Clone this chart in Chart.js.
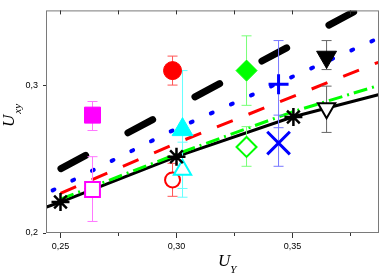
<!DOCTYPE html>
<html>
<head>
<meta charset="utf-8">
<script src="https://cdn.jsdelivr.net/npm/chart.js@4.4.1/dist/chart.umd.min.js"></script>
<style>
html, body { margin: 0; padding: 0; background: #fff; }
#caixa { width: 382px; height: 276px; }
</style>
</head>
<body>
<div id="caixa"><canvas id="grafico"></canvas></div>
<script>
// eixos
var xTicks = [0.25, 0.30, 0.35];
var xTickLabels = ['0,25', '0,30', '0,35'];
var xMinorTicks = [0.275, 0.325, 0.375];
var xTopTicks = [0.25, 0.275, 0.30, 0.325, 0.35, 0.375];
var yTicks = [0.2, 0.3];
var yTickLabels = ['0,2', '0,3'];

// curvas
var solidX = [0.244, 0.25, 0.30, 0.35, 0.387];
var solidY = [0.2176, 0.2209, 0.2516, 0.2784, 0.2935];
var greenX = [0.25, 0.30, 0.35, 0.387];
var greenY = [0.2229, 0.2533, 0.2819, 0.2997];
var redX = [0.25, 0.30, 0.387];
var redY = [0.2268, 0.2608, 0.3154];
var blueX = [0.2466, 0.2974, 0.387];
var blueY = [0.2288, 0.2686, 0.3317];
var dashX = [0.2502, 0.387];
var dashY = [0.2435, 0.3584];

// pontos medidos com barras de erro
var pointX = [0.2638, 0.2638, 0.2983, 0.2983, 0.3026, 0.3026, 0.3302, 0.3302, 0.344, 0.344, 0.3647, 0.3647, 0.25, 0.30, 0.3504];
var pointY = [0.2797, 0.2294, 0.3098, 0.2359, 0.2699, 0.2428, 0.3098, 0.2582, 0.3006, 0.2608, 0.319, 0.2843, 0.2209, 0.2516, 0.2784];
var errLow = [0.2693, 0.2078, 0.300, 0.2248, 0.2301, 0.2242, 0.2863, 0.2451, 0.2712, 0.2451, 0.3105, 0.268, null, null, null];
var errHigh = [0.2889, 0.2516, 0.3196, 0.2471, 0.3098, 0.2614, 0.3333, 0.2719, 0.3301, 0.2797, 0.3301, 0.2993, null, null, null];

var estilos = [
    { forma: 'rect', raio: 11.3, cor: '#ff00ff', fundo: '#ff00ff', linha: 1, erro: '#ff77ff', giro: 0 },
    { forma: 'rect', raio: 10.5, cor: '#ff00ff', fundo: '#ffffff', linha: 2, erro: '#ff77ff', giro: 0 },
    { forma: 'circle', raio: 9, cor: '#ff0000', fundo: '#ff0000', linha: 1, erro: '#ff5555', giro: 0 },
    { forma: 'circle', raio: 7.5, cor: '#ff0000', fundo: '#ffffff', linha: 2, erro: '#ff5555', giro: 0 },
    { forma: 'triangle', raio: 12, cor: '#00ffff', fundo: '#00ffff', linha: 1, erro: '#66ffff', giro: 0 },
    { forma: 'triangle', raio: 10, cor: '#00ffff', fundo: '#ffffff', linha: 2, erro: '#66ffff', giro: 0 },
    { forma: 'rectRot', raio: 10.5, cor: '#00ff00', fundo: '#00ff00', linha: 1, erro: '#77ff77', giro: 0 },
    { forma: 'rectRot', raio: 10, cor: '#00ff00', fundo: '#ffffff', linha: 2, erro: '#77ff77', giro: 0 },
    { forma: 'cross', raio: 10, cor: '#0000ff', fundo: '#0000ff', linha: 3, erro: '#7777ff', giro: 0 },
    { forma: 'crossRot', raio: 16, cor: '#0000ff', fundo: '#0000ff', linha: 3, erro: '#7777ff', giro: 0 },
    { forma: 'triangle', raio: 11.5, cor: '#000000', fundo: '#000000', linha: 1, erro: '#666666', giro: 180 },
    { forma: 'triangle', raio: 10, cor: '#000000', fundo: '#ffffff', linha: 2, erro: '#666666', giro: 180 },
    { forma: 'star', raio: 9, cor: '#000000', fundo: '#000000', linha: 2.5, erro: '#666666', giro: 0 },
    { forma: 'star', raio: 9, cor: '#000000', fundo: '#000000', linha: 2.5, erro: '#666666', giro: 0 },
    { forma: 'star', raio: 9, cor: '#000000', fundo: '#000000', linha: 2.5, erro: '#666666', giro: 0 }
];

function pares(xs, ys) {
    var lista = [];
    for (var i = 0; i < xs.length; i++)
        lista.push({ x: xs[i], y: ys[i] });
    return lista;
}

function curva(xs, ys, cor, largura, traco, ponta) {
    return {
        data: pares(xs, ys),
        showLine: true,
        borderColor: cor,
        borderWidth: largura,
        borderDash: traco,
        borderCapStyle: ponta,
        pointRadius: 0,
        fill: false,
        clip: 0
    };
}

var conjuntos = [];

conjuntos.push({
    data: pares(pointX, pointY),
    pointStyle: estilos.map(function (e) { return e.forma; }),
    pointRadius: estilos.map(function (e) { return e.raio; }),
    pointBackgroundColor: estilos.map(function (e) { return e.fundo; }),
    pointBorderColor: estilos.map(function (e) { return e.cor; }),
    pointBorderWidth: estilos.map(function (e) { return e.linha; }),
    pointRotation: estilos.map(function (e) { return e.giro; }),
    clip: false
});

for (var i = 0; i < pointX.length; i++) {
    if (errLow[i] === null)
        continue;
    conjuntos.push({
        data: [{ x: pointX[i], y: errLow[i] }, { x: pointX[i], y: errHigh[i] }],
        showLine: true,
        borderColor: estilos[i].erro,
        borderWidth: 1,
        pointStyle: 'line',
        pointRadius: 5,
        pointBorderColor: estilos[i].erro,
        pointBorderWidth: 1,
        clip: false
    });
}

conjuntos.push(curva(blueX, blueY, '#0000ff', 4, [2, 20], 'round'));
conjuntos.push(curva(redX, redY, '#ff0000', 3, [17, 17], 'butt'));
conjuntos.push(curva(greenX, greenY, '#00ff00', 3, [14, 5, 2, 5], 'butt'));
conjuntos.push(curva(solidX, solidY, '#000000', 3, [], 'butt'));
conjuntos.push(curva(dashX, dashY, '#000000', 7, [28, 48], 'round'));

var moldura = {
    id: 'moldura',
    afterDraw: function (chart) {
        var ctx = chart.ctx;
        var area = chart.chartArea;
        var escalaX = chart.scales.x;
        ctx.save();
        ctx.strokeStyle = '#7a7a7a';
        ctx.lineWidth = 1;
        ctx.strokeRect(area.left + 0.5, area.top + 0.5, area.right - area.left - 1, area.bottom - area.top - 1);

        ctx.strokeStyle = '#333';
        ctx.beginPath();
        xTopTicks.forEach(function (v) {
            var px = Math.round(escalaX.getPixelForValue(v)) + 0.5;
            ctx.moveTo(px, area.top);
            ctx.lineTo(px, area.top + 4);
        });
        xMinorTicks.forEach(function (v) {
            var px = Math.round(escalaX.getPixelForValue(v)) + 0.5;
            ctx.moveTo(px, area.bottom);
            ctx.lineTo(px, area.bottom + 3);
        });
        ctx.stroke();

        // titulos dos eixos
        ctx.fillStyle = '#000';
        ctx.textBaseline = 'alphabetic';
        ctx.font = 'italic 17px "Liberation Serif"';
        ctx.fillText('U', 218, 266);
        var largU = ctx.measureText('U').width;
        ctx.font = 'italic 11px "Liberation Serif"';
        ctx.fillText('Y', 218 + largU, 273);

        ctx.translate(14, 127);
        ctx.rotate(-Math.PI / 2);
        ctx.font = 'italic 17px "Liberation Serif"';
        ctx.fillText('U', 0, 0);
        largU = ctx.measureText('U').width;
        ctx.font = 'italic 11px "Liberation Serif"';
        ctx.fillText('xy', largU + 1, 7);
        ctx.restore();
    }
};

var contexto = document.getElementById('grafico').getContext('2d');

new Chart(contexto, {
    type: 'scatter',
    data: { datasets: conjuntos },
    plugins: [moldura],
    options: {
        responsive: true,
        maintainAspectRatio: false,
        animation: false,
        layout: {
            autoPadding: false,
            padding: { top: 3, right: 3, left: 0, bottom: 0 }
        },
        scales: {
            x: {
                type: 'linear',
                min: 0.24375,
                max: 0.3873,
                afterFit: function (escala) { escala.height = 43; },
                afterBuildTicks: function (escala) {
                    escala.ticks = xTicks.map(function (v) { return { value: v }; });
                },
                ticks: {
                    autoSkip: false,
                    maxRotation: 0,
                    padding: 3,
                    color: '#000',
                    font: { size: 9, family: 'Liberation Sans' },
                    callback: function (valor, indice) { return xTickLabels[indice]; }
                },
                grid: { drawOnChartArea: false, tickLength: 5, color: '#333' },
                border: { display: false }
            },
            y: {
                type: 'linear',
                min: 0.2,
                max: 0.3505,
                afterFit: function (escala) { escala.width = 46; },
                afterBuildTicks: function (escala) {
                    escala.ticks = yTicks.map(function (v) { return { value: v }; });
                },
                ticks: {
                    autoSkip: false,
                    padding: 5,
                    color: '#000',
                    font: { size: 9, family: 'Liberation Sans' },
                    callback: function (valor, indice) { return yTickLabels[indice]; }
                },
                grid: { drawOnChartArea: false, tickLength: 3, color: '#333' },
                border: { display: false }
            }
        },
        plugins: {
            legend: { display: false },
            tooltip: { enabled: false }
        }
    }
});
</script>
</body>
</html>
